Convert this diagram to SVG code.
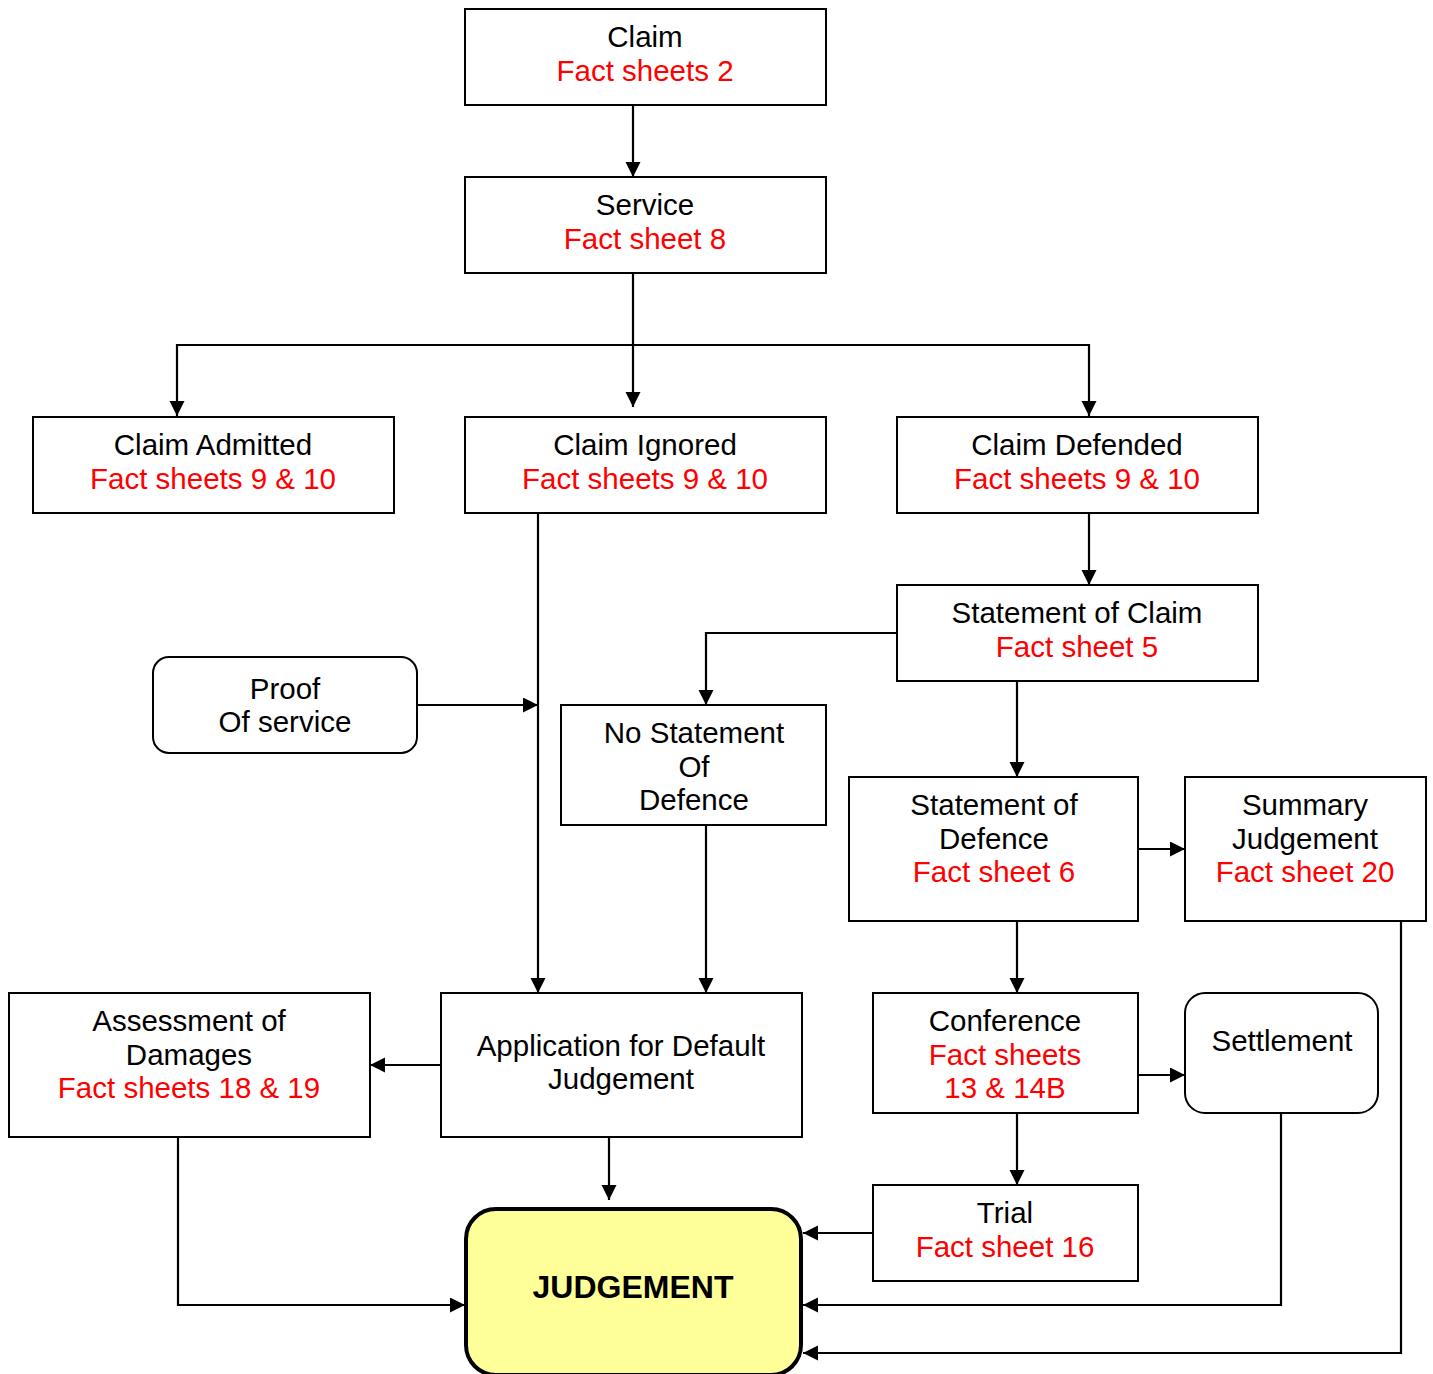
<svg xmlns="http://www.w3.org/2000/svg" width="1433" height="1374" viewBox="0 0 1433 1374">
<style>
.box{fill:#fff;stroke:#000;stroke-width:2}
.t{font-family:"Liberation Sans",Arial,sans-serif;font-size:29.5px;fill:#000;text-anchor:middle}
.r{fill:#f00}
.c{fill:none;stroke:#000;stroke-width:2.2}
</style>
<defs>
<marker id="a" markerUnits="userSpaceOnUse" markerWidth="17" markerHeight="17" refX="15" refY="7.5" orient="auto">
<path d="M0,0 L15,7.5 L0,15 Z" fill="#000"/>
</marker>
</defs>
<rect width="1433" height="1374" fill="#fff"/>
<g id="connectors">
<path class="c" d="M633,105 V177" marker-end="url(#a)"/>
<path class="c" d="M633,273 V407" marker-end="url(#a)"/>
<path class="c" d="M633,345 H1089 V416" marker-end="url(#a)"/>
<path class="c" d="M633,345 H177 V416" marker-end="url(#a)"/>
<path class="c" d="M1089,513 V585" marker-end="url(#a)"/>
<path class="c" d="M897,633 H706 V705" marker-end="url(#a)"/>
<path class="c" d="M1017,681 V777" marker-end="url(#a)"/>
<path class="c" d="M1138,849 H1185" marker-end="url(#a)"/>
<path class="c" d="M1017,921 V993" marker-end="url(#a)"/>
<path class="c" d="M1138,1075 H1185" marker-end="url(#a)"/>
<path class="c" d="M1017,1113 V1185" marker-end="url(#a)"/>
<path class="c" d="M873,1233 H803" marker-end="url(#a)"/>
<path class="c" d="M1281,1113 V1305 H803" marker-end="url(#a)"/>
<path class="c" d="M1401,921 V1353 H803" marker-end="url(#a)"/>
<path class="c" d="M538,513 V993" marker-end="url(#a)"/>
<path class="c" d="M417,705 H538" marker-end="url(#a)"/>
<path class="c" d="M706,825 V993" marker-end="url(#a)"/>
<path class="c" d="M441,1065 H370" marker-end="url(#a)"/>
<path class="c" d="M178,1137 V1305 H465" marker-end="url(#a)"/>
<path class="c" d="M609,1137 V1200" marker-end="url(#a)"/>
</g>
<g id="claim">
<rect class="box" x="465" y="9" width="361" height="96"/>
<text class="t" x="645" y="47">Claim</text>
<text class="t r" x="645" y="81">Fact sheets 2</text>
</g>
<g id="service">
<rect class="box" x="465" y="177" width="361" height="96"/>
<text class="t" x="645" y="215">Service</text>
<text class="t r" x="645" y="249">Fact sheet 8</text>
</g>
<g id="claim-admitted">
<rect class="box" x="33" y="417" width="361" height="96"/>
<text class="t" x="213" y="455">Claim Admitted</text>
<text class="t r" x="213" y="489">Fact sheets 9 &amp; 10</text>
</g>
<g id="claim-ignored">
<rect class="box" x="465" y="417" width="361" height="96"/>
<text class="t" x="645" y="455">Claim Ignored</text>
<text class="t r" x="645" y="489">Fact sheets 9 &amp; 10</text>
</g>
<g id="claim-defended">
<rect class="box" x="897" y="417" width="361" height="96"/>
<text class="t" x="1077" y="455">Claim Defended</text>
<text class="t r" x="1077" y="489">Fact sheets 9 &amp; 10</text>
</g>
<g id="statement-of-claim">
<rect class="box" x="897" y="585" width="361" height="96"/>
<text class="t" x="1077" y="623">Statement of Claim</text>
<text class="t r" x="1077" y="657">Fact sheet 5</text>
</g>
<g id="proof-of-service">
<rect class="box" x="153" y="657" width="264" height="96" rx="16"/>
<text class="t" x="285" y="699">Proof</text>
<text class="t" x="285" y="732">Of service</text>
</g>
<g id="no-statement-of-defence">
<rect class="box" x="561" y="705" width="265" height="120"/>
<text class="t" x="694" y="743">No Statement</text>
<text class="t" x="694" y="777">Of</text>
<text class="t" x="694" y="810">Defence</text>
</g>
<g id="statement-of-defence">
<rect class="box" x="849" y="777" width="289" height="144"/>
<text class="t" x="994" y="815">Statement of</text>
<text class="t" x="994" y="849">Defence</text>
<text class="t r" x="994" y="882">Fact sheet 6</text>
</g>
<g id="summary-judgement">
<rect class="box" x="1185" y="777" width="241" height="144"/>
<text class="t" x="1305" y="815">Summary</text>
<text class="t" x="1305" y="849">Judgement</text>
<text class="t r" x="1305" y="882">Fact sheet 20</text>
</g>
<g id="assessment-of-damages">
<rect class="box" x="9" y="993" width="361" height="144"/>
<text class="t" x="189" y="1031">Assessment of</text>
<text class="t" x="189" y="1065">Damages</text>
<text class="t r" x="189" y="1098">Fact sheets 18 &amp; 19</text>
</g>
<g id="application-default-judgement">
<rect class="box" x="441" y="993" width="361" height="144"/>
<text class="t" x="621" y="1056">Application for Default</text>
<text class="t" x="621" y="1089">Judgement</text>
</g>
<g id="conference">
<rect class="box" x="873" y="993" width="265" height="120"/>
<text class="t" x="1005" y="1031">Conference</text>
<text class="t r" x="1005" y="1065">Fact sheets</text>
<text class="t r" x="1005" y="1098">13 &amp; 14B</text>
</g>
<g id="settlement">
<rect class="box" x="1185" y="993" width="193" height="120" rx="20"/>
<text class="t" x="1282" y="1051">Settlement</text>
</g>
<g id="trial">
<rect class="box" x="873" y="1185" width="265" height="96"/>
<text class="t" x="1005" y="1223">Trial</text>
<text class="t r" x="1005" y="1257">Fact sheet 16</text>
</g>
<g id="judgement">
<rect x="466" y="1209" width="335" height="166" rx="30" fill="#ffff99" stroke="#000" stroke-width="4"/>
<text class="t" x="633" y="1298" font-weight="bold" font-size="32px" style="font-size:32px">JUDGEMENT</text>
</g>
</svg>
